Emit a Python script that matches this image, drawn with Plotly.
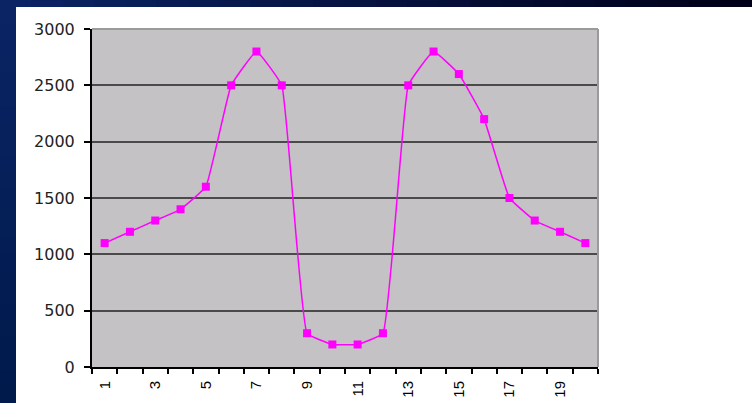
import plotly.graph_objects as go

# ---- data ----
categories = list(range(1, 21))
values = [1100, 1200, 1300, 1400, 1600, 2500, 2800, 2500, 300, 200,
          200, 300, 2500, 2800, 2600, 2200, 1500, 1300, 1200, 1100]
x_tick_vals = [1, 3, 5, 7, 9, 11, 13, 15, 17, 19]
x_tick_text = ["1", "3", "5", "7", "9", "11", "13", "15", "17", "19"]
y_tick_vals = [0, 500, 1000, 1500, 2000, 2500, 3000]

W, H = 752, 403
ML, MR, MT, MB = 92, 154, 29, 36
PW = W - ML - MR
PH = H - MT - MB


def px_x(p):
    return (p - ML) / PW


def px_y(p):
    return (H - MB - p) / PH


def lerp(c1, c2, t):
    return "rgb(%d,%d,%d)" % tuple(round(a + (b - a) * t) for a, b in zip(c1, c2))


fig = go.Figure()
fig.add_trace(go.Scatter(
    x=categories, y=values, mode="lines+markers",
    line=dict(color="#FF00FF", width=1.5, shape="spline", smoothing=0.3),
    marker=dict(symbol="square", size=8, color="#FF00FF"),
    showlegend=False, cliponaxis=False,
))

shapes = []
# dark slide bands (gradients)
N = 24
top_l, top_r = (10, 36, 100), (0, 0, 24)
for i in range(N):
    shapes.append(dict(type="rect", xref="paper", yref="paper",
                       x0=px_x(W * i / N), x1=px_x(W * (i + 1) / N + 1),
                       y0=px_y(7), y1=px_y(0), fillcolor=lerp(top_l, top_r, i / (N - 1)),
                       line=dict(width=0), layer="below"))
left_t, left_b = (10, 36, 100), (0, 26, 76)
for i in range(N):
    shapes.append(dict(type="rect", xref="paper", yref="paper",
                       x0=px_x(0), x1=px_x(16),
                       y0=px_y(7 + (H - 7) * (i + 1) / N + 1), y1=px_y(7 + (H - 7) * i / N),
                       fillcolor=lerp(left_t, left_b, i / (N - 1)),
                       line=dict(width=0), layer="below"))
# top and right plot-area border
shapes.append(dict(type="line", xref="paper", yref="paper", x0=0, x1=1, y0=1, y1=1,
                   line=dict(color="#9a9a9a", width=2), layer="above"))
shapes.append(dict(type="line", xref="paper", yref="paper", x0=1, x1=1, y0=0, y1=1,
                   line=dict(color="#9a9a9a", width=2), layer="above"))

fig.update_layout(
    width=W, height=H,
    margin=dict(l=ML, r=MR, t=MT, b=MB, pad=0, autoexpand=False),
    paper_bgcolor="white", plot_bgcolor="#C4C2C4",
    shapes=shapes,
    font=dict(family="DejaVu Sans", color="black"),
)
fig.update_xaxes(
    range=[0.5, 20.5], tickmode="array", tickvals=x_tick_vals, ticktext=x_tick_text,
    tickangle=-90, ticks="", showgrid=False, zeroline=False, automargin=False,
    showline=True, linecolor="black", linewidth=2,
    tickfont=dict(family="Liberation Sans", size=15),
    ticklabelstandoff=6,
    minor=dict(tickmode="linear", tick0=0.5, dtick=1, ticks="outside", ticklen=5,
               tickwidth=2, tickcolor="black", showgrid=False),
)
fig.update_yaxes(
    range=[0, 3000], tickmode="array", tickvals=y_tick_vals,
    ticks="outside", ticklen=6, tickwidth=2, tickcolor="black",
    showgrid=True, gridcolor="#4a4a4a", gridwidth=1.5, zeroline=False, automargin=False,
    showline=True, linecolor="black", linewidth=2,
    tickfont=dict(family="DejaVu Sans", size=16, color="#222222"),
    ticklabelstandoff=6,
)

fig.write_html(
    "out.html",
    config={"displayModeBar": False},
    post_script="document.body.style.margin='0';document.body.style.padding='0';"
                "document.body.style.overflow='hidden';",
)
